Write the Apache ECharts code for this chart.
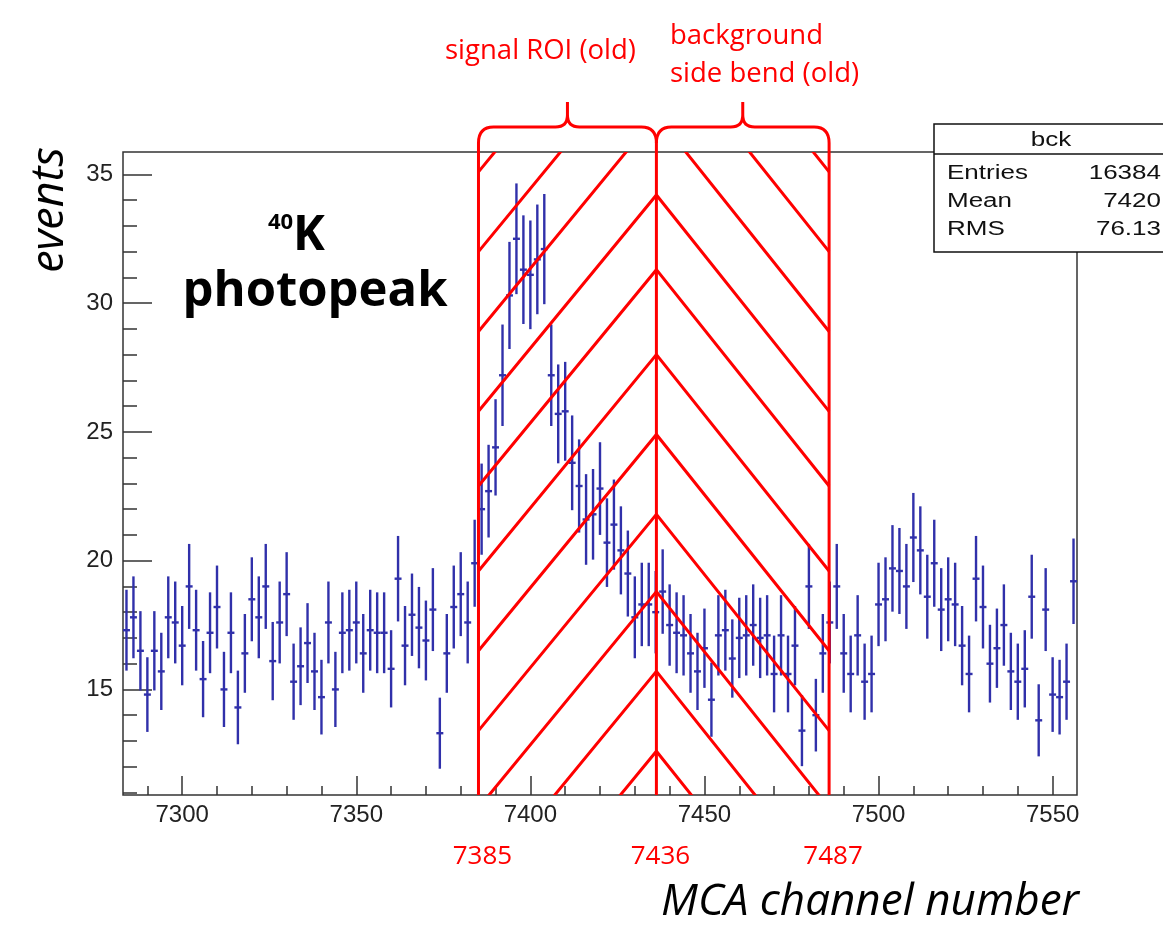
<!DOCTYPE html>
<html><head><meta charset="utf-8">
<script src="https://cdn.jsdelivr.net/npm/echarts@6/dist/echarts.min.js"></script>
<style>html,body{margin:0;padding:0;background:#fff}#c{width:1163px;height:930px}</style>
</head><body><div id="c"></div>
<script>
// ---- data ----
const firstBinCenter = 7284;   // MCA channel of first bin centre
const binWidth = 2;            // channels per bin
const counts = [
  17.3, 17.8, 16.5, 14.8, 16.5, 15.7, 17.8, 17.6, 16.7, 19.0,
  17.3, 15.4, 17.2, 18.2, 15.0, 17.2, 14.3, 16.4, 18.5, 17.8,
  19.0, 16.1, 17.6, 18.7, 15.3, 15.9, 16.8, 15.7, 14.7, 17.6,
  15.0, 17.2, 17.3, 17.6, 16.4, 17.3, 17.2, 17.2, 15.8, 19.3,
  16.7, 17.9, 17.4, 16.9, 18.1, 13.3, 16.4, 18.2, 18.7, 17.6,
  19.9, 22.0, 22.7, 24.4, 27.2, 30.3, 32.5, 31.3, 31.1, 31.7,
  32.1, 27.2, 25.7, 25.8, 23.8, 22.9, 21.6, 21.8, 22.8, 20.7,
  21.4, 20.4, 19.5, 17.8, 18.3, 18.3, 18.0, 18.8, 17.5, 17.2,
  17.1, 16.4, 15.7, 16.6, 14.6, 17.1, 17.3, 16.2, 17.0, 17.1,
  17.5, 17.0, 17.1, 15.6, 17.1, 15.6, 16.7, 13.4, 19.0, 14.0,
  16.4, 17.6, 19.0, 16.4, 15.6, 17.1, 15.3, 15.6, 18.3, 18.5,
  19.7, 19.6, 19.0, 20.9, 20.4, 18.6, 19.9, 18.1, 18.5, 18.3,
  16.7, 15.6, 19.3, 18.2, 16.0, 16.6, 17.5, 15.7, 15.3, 15.8,
  18.6, 13.8, 18.1, 14.8, 14.7, 15.3, 19.2
];
const errors = [
  1.57, 1.59, 1.54, 1.45, 1.54, 1.50, 1.59, 1.59, 1.54, 1.65,
  1.57, 1.48, 1.57, 1.61, 1.46, 1.57, 1.43, 1.53, 1.63, 1.59,
  1.65, 1.52, 1.59, 1.63, 1.48, 1.51, 1.55, 1.50, 1.45, 1.59,
  1.46, 1.57, 1.57, 1.59, 1.53, 1.57, 1.57, 1.57, 1.50, 1.66,
  1.54, 1.60, 1.58, 1.55, 1.61, 1.38, 1.53, 1.61, 1.63, 1.59,
  1.69, 1.77, 1.80, 1.87, 1.97, 2.08, 2.15, 2.11, 2.11, 2.13,
  2.14, 1.97, 1.92, 1.92, 1.84, 1.81, 1.76, 1.76, 1.80, 1.72,
  1.75, 1.71, 1.67, 1.59, 1.62, 1.62, 1.60, 1.64, 1.58, 1.57,
  1.56, 1.53, 1.50, 1.54, 1.44, 1.56, 1.57, 1.52, 1.56, 1.56,
  1.58, 1.56, 1.56, 1.49, 1.56, 1.49, 1.54, 1.38, 1.65, 1.41,
  1.53, 1.59, 1.65, 1.53, 1.49, 1.56, 1.48, 1.49, 1.62, 1.63,
  1.68, 1.67, 1.65, 1.73, 1.71, 1.63, 1.69, 1.61, 1.63, 1.62,
  1.54, 1.49, 1.66, 1.61, 1.51, 1.54, 1.58, 1.50, 1.48, 1.50,
  1.63, 1.40, 1.61, 1.45, 1.45, 1.48, 1.66
];
const xMin = 7283, xMax = 7557;
const yMin = 10.9, yMax = 35.87;
const xTicksMajor = [7300, 7350, 7400, 7450, 7500, 7550];
const xTicksMinor = [7290, 7310, 7320, 7330, 7340, 7360, 7370, 7380, 7390, 7410, 7420, 7430, 7440,
                     7460, 7470, 7480, 7490, 7510, 7520, 7530, 7540];
const yTicksMajor = [15, 20, 25, 30, 35];
const yTicksMinor = [11, 12, 13, 14, 16, 17, 18, 19, 21, 22, 23, 24, 26, 27, 28, 29, 31, 32, 33, 34];
const roiEdges = [7385.1, 7436.2, 7485.8];        // drawn positions of the red boundaries
const roiLabels = ['7385', '7436', '7487'];
const roiNames = ['signal ROI (old)', 'background\nside bend (old)'];
const hatchApex = [12.6, 15.7, 18.8, 21.8, 24.9, 28.0, 31.3, 34.2, 37.3, 40.4, 43.5];
const hatchDrop = 8.4;   // drop (events) from centre line to outer boundary
const statsRows = [['Entries', '16384'], ['Mean', '7420'], ['RMS', '76.13']];

// ---- chart ----
const RED = '#ff0000';
const BLUE = '#3030aa';
const AX = '#333';
const chart = echarts.init(document.getElementById('c'), null, {renderer: 'canvas'});

const histData = counts.map((v, i) => [firstBinCenter + i * binWidth, v, errors[i]]);

const baseX = {type: 'value', min: xMin, max: xMax, gridIndex: 0, position: 'bottom',
  splitLine: {show: false}, axisLine: {show: false}};
const baseY = {type: 'value', min: yMin, max: yMax, gridIndex: 0, position: 'left',
  splitLine: {show: false}, axisLine: {show: false}};
const plain = v => String(v);

const option = {
  animation: false,
  backgroundColor: '#fff',
  grid: {left: 123, top: 152, width: 954, height: 643, show: true,
    borderColor: AX, borderWidth: 1.5, backgroundColor: 'transparent'},
  xAxis: [
    Object.assign({}, baseX, {
      axisTick: {show: true, inside: true, length: 19, customValues: xTicksMajor,
        lineStyle: {color: AX, width: 1.5}},
      axisLabel: {show: true, customValues: xTicksMajor, margin: 8, color: '#222',
        fontFamily: 'Liberation Sans', fontSize: 24, formatter: plain}
    }),
    Object.assign({}, baseX, {
      axisTick: {show: true, inside: true, length: 9, customValues: xTicksMinor,
        lineStyle: {color: AX, width: 1.5}},
      axisLabel: {show: false}
    })
  ],
  yAxis: [
    Object.assign({}, baseY, {
      axisTick: {show: true, inside: true, length: 29, customValues: yTicksMajor,
        lineStyle: {color: AX, width: 1.5}},
      axisLabel: {show: true, customValues: yTicksMajor, margin: 10, color: '#222',
        fontFamily: 'Liberation Sans', fontSize: 24, formatter: plain}
    }),
    Object.assign({}, baseY, {
      axisTick: {show: true, inside: true, length: 14, customValues: yTicksMinor,
        lineStyle: {color: AX, width: 1.5}},
      axisLabel: {show: false}
    })
  ],
  series: [
    { // histogram with error bars
      type: 'custom', xAxisIndex: 0, yAxisIndex: 0, clip: true, z: 3,
      data: histData,
      renderItem: function (params, api) {
        const x = api.value(0), v = api.value(1), e = api.value(2);
        const t = api.coord([x, v + e]), b = api.coord([x, v - e]);
        const l = api.coord([x - binWidth / 2, v]), r = api.coord([x + binWidth / 2, v]);
        const st = {stroke: BLUE, lineWidth: 2.4};
        return {type: 'group', children: [
          {type: 'line', shape: {x1: t[0], y1: t[1], x2: b[0], y2: b[1]}, style: st},
          {type: 'line', shape: {x1: l[0], y1: l[1], x2: r[0], y2: r[1]}, style: st}
        ]};
      }
    },
    { // hatching chevrons
      type: 'custom', xAxisIndex: 0, yAxisIndex: 0, clip: true, z: 5,
      data: hatchApex.map((a, i) => [roiEdges[1], a]),
      renderItem: function (params, api) {
        const a = api.value(1);
        const p0 = api.coord([roiEdges[0], a - hatchDrop]);
        const p1 = api.coord([roiEdges[1], a]);
        const p2 = api.coord([roiEdges[2], a - hatchDrop]);
        return {type: 'polyline', shape: {points: [p0, p1, p2]},
          style: {stroke: RED, lineWidth: 3, fill: null}};
      }
    },
    { // boundaries, braces and labels
      type: 'custom', xAxisIndex: 0, yAxisIndex: 0, clip: false, z: 6,
      data: roiEdges.map((e, i) => [e, yMin, i]),
      renderItem: function (params, api) {
        const i = api.value(2);
        const x = api.coord([roiEdges[i], yMin])[0];
        const yb = api.coord([roiEdges[i], yMin])[1];
        const yt = api.coord([roiEdges[i], yMax])[1];
        const children = [
          {type: 'line', shape: {x1: x, y1: yb, x2: x, y2: yt - 9}, style: {stroke: RED, lineWidth: 3}},
          {type: 'text', x: x + 4, y: yb + 62, style: {text: roiLabels[i], fill: RED,
            font: '26px "Open Sans"', align: 'center', verticalAlign: 'middle'}}
        ];
        if (i < roiEdges.length - 1) {
          const x1 = api.coord([roiEdges[i + 1], yMin])[0];
          const xm = (x + x1) / 2;
          const yBase = yt - 9, yH = yt - 25, yTip = yt - 50, r = 15, rm = 12;
          const d = 'M' + x + ',' + yBase + ' Q' + x + ',' + yH + ' ' + (x + r) + ',' + yH +
            ' L' + (xm - rm) + ',' + yH + ' Q' + xm + ',' + yH + ' ' + xm + ',' + (yH - rm) +
            ' L' + xm + ',' + yTip +
            ' M' + xm + ',' + (yH - rm) + ' Q' + xm + ',' + yH + ' ' + (xm + rm) + ',' + yH +
            ' L' + (x1 - r) + ',' + yH + ' Q' + x1 + ',' + yH + ' ' + x1 + ',' + yBase;
          children.push({type: 'path', shape: {pathData: d},
            style: {stroke: RED, lineWidth: 3, fill: null}});
        }
        return {type: 'group', children: children};
      }
    }
  ],
  graphic: [
    {type: 'text', left: 445, top: 37, z: 100,
      style: {text: roiNames[0], fill: RED, font: '27.5px "Open Sans"'}},
    {type: 'text', left: 670, top: 17, z: 100,
      style: {text: roiNames[1], fill: RED, font: '27.5px "Open Sans"', lineHeight: 38}},
    // stats box
    {type: 'rect', shape: {x: 934, y: 124, width: 240, height: 128}, z: 100,
      style: {fill: '#fff', stroke: '#111', lineWidth: 1.5}},
    {type: 'line', shape: {x1: 934, y1: 154, x2: 1163, y2: 154}, z: 101,
      style: {stroke: '#111', lineWidth: 1.5}},
    {type: 'text', x: 1051, y: 140, scaleX: 1.3, z: 101,
      style: {text: 'bck', fill: '#111', font: '20px "Liberation Sans"', align: 'center', verticalAlign: 'middle'}},
    ...statsRows.flatMap((row, i) => [
      {type: 'text', x: 947, y: 173 + i * 28, scaleX: 1.3, z: 101,
        style: {text: row[0], fill: '#111', font: '20px "Liberation Sans"', align: 'left', verticalAlign: 'middle'}},
      {type: 'text', x: 1161, y: 173 + i * 28, scaleX: 1.3, z: 101,
        style: {text: row[1], fill: '#111', font: '20px "Liberation Sans"', align: 'right', verticalAlign: 'middle'}}
    ]),
    // titles
    {type: 'text', x: 50, y: 210, rotation: Math.PI / 2, z: 100,
      style: {text: 'events', fill: '#000', font: 'italic 45px "Open Sans"', align: 'center', verticalAlign: 'middle'}},
    {type: 'text', x: 870, y: 902, z: 100,
      style: {text: 'MCA channel number', fill: '#000', font: 'italic 44px "Open Sans"', align: 'center', verticalAlign: 'middle'}},
    {type: 'text', x: 268, y: 223, z: 100,
      style: {text: '40', fill: '#000', font: 'bold 22px "Open Sans"', align: 'left', verticalAlign: 'middle'}},
    {type: 'text', x: 293, y: 236, z: 100,
      style: {text: 'K', fill: '#000', font: 'bold 48px "Open Sans"', align: 'left', verticalAlign: 'middle'}},
    {type: 'text', x: 315, y: 292, z: 100,
      style: {text: 'photopeak', fill: '#000', font: 'bold 49px "Open Sans"', align: 'center', verticalAlign: 'middle'}}
  ]
};
chart.setOption(option);
</script>
</body></html>
